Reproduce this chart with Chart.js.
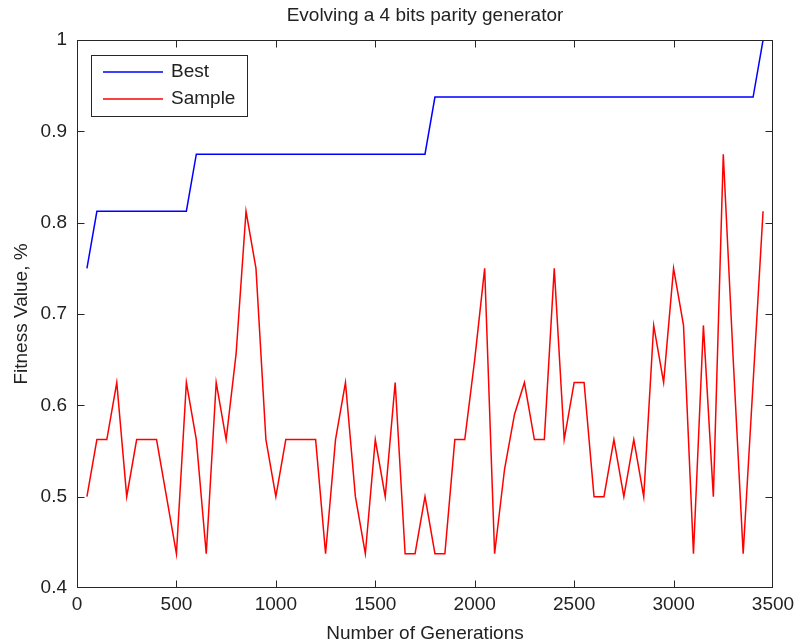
<!DOCTYPE html>
<html>
<head>
<meta charset="utf-8">
<title>Evolving a 4 bits parity generator</title>
<script src="https://cdn.jsdelivr.net/npm/chart.js@4.4.1/dist/chart.umd.min.js"></script>
<style>
  html, body { margin: 0; padding: 0; background: #fff; }
  canvas { display: block; }
</style>
</head>
<body>
<canvas id="mycanvas" width="796" height="643"></canvas>
<script>
// generations sampled every 50
var generations = [50, 100, 150, 200, 250, 300, 350, 400, 450, 500,
  550, 600, 650, 700, 750, 800, 850, 900, 950, 1000,
  1050, 1100, 1150, 1200, 1250, 1300, 1350, 1400, 1450, 1500,
  1550, 1600, 1650, 1700, 1750, 1800, 1850, 1900, 1950, 2000,
  2050, 2100, 2150, 2200, 2250, 2300, 2350, 2400, 2450, 2500,
  2550, 2600, 2650, 2700, 2750, 2800, 2850, 2900, 2950, 3000,
  3050, 3100, 3150, 3200, 3250, 3300, 3350, 3400, 3450];

var best = [0.75, 0.8125, 0.8125, 0.8125, 0.8125, 0.8125, 0.8125, 0.8125, 0.8125, 0.8125,
  0.8125, 0.875, 0.875, 0.875, 0.875, 0.875, 0.875, 0.875, 0.875, 0.875,
  0.875, 0.875, 0.875, 0.875, 0.875, 0.875, 0.875, 0.875, 0.875, 0.875,
  0.875, 0.875, 0.875, 0.875, 0.875, 0.9375, 0.9375, 0.9375, 0.9375, 0.9375,
  0.9375, 0.9375, 0.9375, 0.9375, 0.9375, 0.9375, 0.9375, 0.9375, 0.9375, 0.9375,
  0.9375, 0.9375, 0.9375, 0.9375, 0.9375, 0.9375, 0.9375, 0.9375, 0.9375, 0.9375,
  0.9375, 0.9375, 0.9375, 0.9375, 0.9375, 0.9375, 0.9375, 0.9375, 1];

var sample = [0.5, 0.5625, 0.5625, 0.625, 0.5, 0.5625, 0.5625, 0.5625, 0.5, 0.4375,
  0.625, 0.5625, 0.4375, 0.625, 0.5625, 0.65625, 0.8125, 0.75, 0.5625, 0.5,
  0.5625, 0.5625, 0.5625, 0.5625, 0.4375, 0.5625, 0.625, 0.5, 0.4375, 0.5625,
  0.5, 0.625, 0.4375, 0.4375, 0.5, 0.4375, 0.4375, 0.5625, 0.5625, 0.65,
  0.75, 0.4375, 0.53, 0.59, 0.625, 0.5625, 0.5625, 0.75, 0.5625, 0.625,
  0.625, 0.5, 0.5, 0.5625, 0.5, 0.5625, 0.5, 0.6875, 0.625, 0.75,
  0.6875, 0.4375, 0.6875, 0.5, 0.875, 0.65, 0.4375, 0.625, 0.8125];

var xTicks = [0, 500, 1000, 1500, 2000, 2500, 3000, 3500];
var yTicks = [0.4, 0.5, 0.6, 0.7, 0.8, 0.9, 1];

var FONT = "'Liberation Sans', Arial, Helvetica, sans-serif";
var INK = '#262626';

function points(ys) {
  var out = [];
  for (var i = 0; i < generations.length; i++) {
    out.push({x: generations[i], y: ys[i]});
  }
  return out;
}

// box round the plot, inward ticks on all four sides, legend inside
var matlabFrame = {
  id: 'matlabFrame',
  afterDatasetsDraw: function(chart) {
    var ctx = chart.ctx;
    var a = chart.chartArea;
    var xs = chart.scales.x, ys = chart.scales.y;
    var L = Math.round(a.left) + 0.5, R = Math.round(a.right) - 0.5;
    var T = Math.round(a.top) + 0.5, B = Math.round(a.bottom) - 0.5;
    ctx.save();
    ctx.strokeStyle = INK;
    ctx.lineWidth = 1;
    ctx.beginPath();
    xs.ticks.forEach(function(t) {
      var px = Math.round(xs.getPixelForValue(t.value)) + 0.5;
      px = Math.min(Math.max(px, L), R);
      ctx.moveTo(px, B); ctx.lineTo(px, B - 7);
      ctx.moveTo(px, T); ctx.lineTo(px, T + 7);
    });
    ys.ticks.forEach(function(t) {
      var py = Math.round(ys.getPixelForValue(t.value)) + 0.5;
      py = Math.min(Math.max(py, T), B);
      ctx.moveTo(L, py); ctx.lineTo(L + 7, py);
      ctx.moveTo(R, py); ctx.lineTo(R - 7, py);
    });
    ctx.stroke();
    ctx.strokeRect(L, T, R - L, B - T);

    // legend
    ctx.fillStyle = '#fff';
    ctx.fillRect(92, 56, 156, 61);
    ctx.strokeRect(91.5, 55.5, 156, 61);
    ctx.font = '19px ' + FONT;
    ctx.textBaseline = 'middle';
    ctx.textAlign = 'left';
    chart.data.datasets.forEach(function(ds, i) {
      var y = 72 + i * 27;
      ctx.strokeStyle = ds.borderColor;
      ctx.lineWidth = 1.4;
      ctx.beginPath();
      ctx.moveTo(103, y); ctx.lineTo(163, y);
      ctx.stroke();
      ctx.fillStyle = '#222';
      ctx.fillText(ds.label, 171, y);
    });
    ctx.restore();
  }
};

var ctx = document.getElementById('mycanvas');

var chart = new Chart(ctx, {
  type: 'line',
  data: {
    datasets: [
      {
        label: 'Best',
        data: points(best),
        borderColor: '#0000ff',
        backgroundColor: '#0000ff',
        borderWidth: 1.5,
        pointRadius: 0,
        tension: 0,
        fill: false
      },
      {
        label: 'Sample',
        data: points(sample),
        borderColor: '#ff0000',
        backgroundColor: '#ff0000',
        borderWidth: 1.5,
        pointRadius: 0,
        tension: 0,
        fill: false
      }
    ]
  },
  options: {
    responsive: false,
    animation: false,
    layout: { padding: { left: 0, right: 23, top: 0, bottom: 0 } },
    plugins: {
      legend: { display: false },
      tooltip: { enabled: false },
      title: {
        display: true,
        text: 'Evolving a 4 bits parity generator',
        fullSize: false,
        color: '#222',
        font: { family: FONT, size: 19, weight: 'normal', lineHeight: 1.2 },
        padding: { top: 4, bottom: 13.2 }
      }
    },
    scales: {
      x: {
        type: 'linear',
        min: 0,
        max: 3500,
        afterBuildTicks: function(s) { s.ticks = xTicks.map(function(v) { return {value: v}; }); },
        afterFit: function(s) { s.height = 55; s.paddingLeft = 0; s.paddingRight = 0; },
        grid: { display: false, drawTicks: false },
        border: { display: false },
        ticks: {
          color: '#222',
          padding: 5,
          maxRotation: 0,
          font: { family: FONT, size: 19 },
          callback: function(v) { return String(v); }
        },
        title: {
          display: true,
          text: 'Number of Generations',
          color: '#222',
          font: { family: FONT, size: 19, lineHeight: 1 },
          padding: 0
        }
      },
      y: {
        type: 'linear',
        min: 0.4,
        max: 1,
        afterBuildTicks: function(s) { s.ticks = yTicks.map(function(v) { return {value: v}; }); },
        afterFit: function(s) { s.width = 77; s.paddingTop = 0; s.paddingBottom = 0; },
        grid: { display: false, drawTicks: false },
        border: { display: false },
        ticks: {
          color: '#222',
          padding: 10,
          font: { family: FONT, size: 19 },
          callback: function(v) { return String(+v.toFixed(1)); }
        },
        title: {
          display: true,
          text: 'Fitness Value, %',
          color: '#222',
          font: { family: FONT, size: 19, lineHeight: 1 },
          padding: { top: 12, bottom: 0 }
        }
      }
    }
  },
  plugins: [matlabFrame]
});
</script>
</body>
</html>
